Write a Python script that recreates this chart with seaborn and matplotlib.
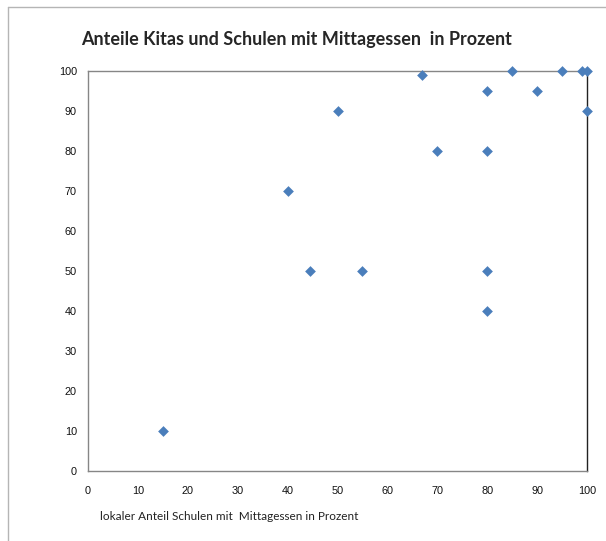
import matplotlib
matplotlib.use("Agg")
import matplotlib.pyplot as plt
import seaborn as sns
import pandas as pd
from matplotlib.lines import Line2D

# Werte
anteil_schulen = [15, 40, 44.5, 55, 50, 67, 70, 80, 80, 80, 80, 85, 90, 95, 99, 100, 100]
anteil_kitas = [10, 70, 50, 50, 90, 99, 80, 95, 80, 50, 40, 100, 95, 100, 100, 100, 90]
achsen_ticks = list(range(0, 101, 10))

titel = "Anteile Kitas und Schulen mit Mittagessen  in Prozent"
x_beschriftung = "lokaler Anteil Schulen mit  Mittagessen in Prozent"

df = pd.DataFrame({"schulen": anteil_schulen, "kitas": anteil_kitas})

sns.set_style("white")
plt.rcParams["font.family"] = ["Liberation Sans", "DejaVu Sans"]

W, H = 606, 541
fig = plt.figure(figsize=(W / 100, H / 100), dpi=100)
ax = fig.add_axes([88 / W, (H - 471) / H, (587 - 88) / W, (471 - 71) / H])

sns.scatterplot(data=df, x="schulen", y="kitas", ax=ax, marker="D",
                s=30, color="#4A7EBB", linewidth=0, clip_on=False, zorder=5)

ax.set_xlim(0, 100)
ax.set_ylim(0, 100)
ax.set_xticks(achsen_ticks)
ax.set_yticks(achsen_ticks)
ax.tick_params(axis="both", direction="out", length=4, width=0.8,
               color="#868686", labelsize=7.8, labelcolor="#111111", pad=4)
ax.tick_params(axis="x", pad=7)

for name in ["left", "bottom", "top"]:
    ax.spines[name].set_color("#868686")
    ax.spines[name].set_linewidth(1.0)
ax.spines["right"].set_color("#222222")
ax.spines["right"].set_linewidth(1.0)

ax.set_xlabel("")
ax.set_ylabel("")

fig.text(297 / W, 1 - 40 / H, titel, ha="center", va="center",
         fontsize=13, fontweight="bold", family=["Lato", "DejaVu Sans"])
fig.text(100 / W, 1 - 517 / H, x_beschriftung, ha="left", va="center",
         fontsize=8.5, family=["Lato", "DejaVu Sans"], color="#222222")

# äußerer Diagrammrahmen (nur links und oben sichtbar)
fig.add_artist(Line2D([8 / W, 8 / W], [0, 1 - 7 / H], transform=fig.transFigure,
                      color="#b5b5b5", linewidth=1.0))
fig.add_artist(Line2D([8 / W, 1], [1 - 7 / H, 1 - 7 / H], transform=fig.transFigure,
                      color="#b5b5b5", linewidth=1.0))

fig.savefig("out.png", dpi=100, facecolor="white")
